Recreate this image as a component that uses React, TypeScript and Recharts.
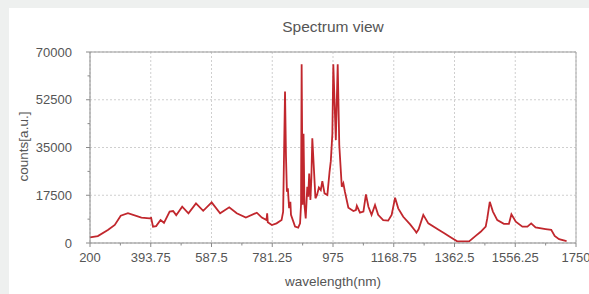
import { CartesianGrid, Line, LineChart, ReferenceLine, XAxis, YAxis } from 'recharts'

const wavelengths = [
  200, 225, 257, 279, 298, 321, 364, 390, 395, 401, 411, 425, 436, 454, 465, 475, 494, 514, 538,
  561, 588, 615, 644, 668, 697, 732, 748, 763, 765, 767, 780, 795, 811, 816, 822, 825, 828, 831,
  835, 839, 841, 854, 864, 870, 873, 875, 878, 881, 884, 888, 893, 896, 899, 903, 906, 909, 914,
  919, 924, 930, 936, 941, 948, 957, 964, 968, 973, 976, 984, 990, 995, 1003, 1008, 1013, 1024,
  1040, 1048, 1051, 1061, 1072, 1080, 1088, 1098, 1109, 1119, 1135, 1151, 1162, 1173, 1183, 1199,
  1221, 1237, 1241, 1248, 1263, 1279, 1313, 1330, 1350, 1371, 1409, 1430, 1446, 1462, 1467, 1475,
  1485, 1499, 1520, 1536, 1544, 1558, 1579, 1595, 1607, 1621, 1653, 1671, 1682, 1696, 1720,
]

const counts = [
  2100, 2560, 4760, 6600, 10000, 10900, 9300, 9000, 9200, 6000, 6200, 8400, 7400, 11500, 11700,
  10200, 13300, 10900, 14500, 11800, 14900, 10900, 13100, 10900, 9300, 11100, 9300, 8400, 10900,
  7600, 6600, 7200, 8400, 11500, 55500, 32000, 18800, 20000, 12800, 15100, 10300, 6000, 5600, 7200,
  13900, 65500, 14000, 40000, 13900, 9000, 20600, 17000, 25500, 15800, 23700, 38400, 27400, 16400,
  17600, 20300, 19400, 22700, 18200, 17600, 26100, 30000, 40000, 65500, 37700, 65500, 35900, 20600,
  21900, 18800, 12900, 11700, 12100, 13600, 11100, 11500, 17800, 13300, 10300, 13900, 10300, 8400,
  8200, 10300, 16600, 12700, 9600, 6800, 4500, 3800, 5000, 10300, 7200, 4800, 3600, 2100, 600, 600,
  2600, 4100, 6000, 9000, 15100, 11500, 8400, 7000, 7000, 10500, 7800, 6000, 6000, 7200, 5700, 5100,
  4800, 2600, 1400, 700,
]

const xMajor = [200, 393.75, 587.5, 781.25, 975, 1168.75, 1362.5, 1556.25, 1750]
const xMinor = [296.875, 490.625, 684.375, 878.125, 1071.875, 1265.625, 1459.375, 1653.125]
const yMajor = [0, 17500, 35000, 52500, 70000]
const yMinor = [8750, 26250, 43750, 61250]

const data = wavelengths.map((w, i) => ({ wl: w, counts: counts[i] }))
const xTicks = [...xMajor, ...xMinor].sort((a, b) => a - b)
const yTicks = [...yMajor, ...yMinor].sort((a, b) => a - b)

const font = '"Liberation Sans", Arial, Helvetica, sans-serif'
const axisColor = '#8a8a8a'
const textColor = '#555'

const XTick = (props: any) => {
  const { x, y, payload } = props
  const major = xMajor.includes(payload.value)
  const top = y - 10
  return (
    <g>
      <line x1={x} x2={x} y1={top} y2={top + (major ? 4 : 2.5)} stroke={axisColor} />
      {major && (
        <text x={x} y={y} dy='0.71em' textAnchor='middle' fill={textColor} fontSize={13} fontFamily={font}>
          {payload.value}
        </text>
      )}
    </g>
  )
}

const YTick = (props: any) => {
  const { x, y, payload } = props
  const major = yMajor.includes(payload.value)
  const axisX = x + 18
  return (
    <g>
      <line x1={axisX - (major ? 4 : 2.5)} x2={axisX} y1={y} y2={y} stroke={axisColor} />
      {major && (
        <text x={x} y={y} dy='0.355em' textAnchor='end' fill={textColor} fontSize={13} fontFamily={font}>
          {payload.value}
        </text>
      )}
    </g>
  )
}

export default function App() {
  return (
    <div style={{ position: 'absolute', left: 0, top: 0, width: 589, height: 294, background: '#eef0ef', fontFamily: font }}>
      <div style={{ position: 'absolute', left: 9, top: 8, width: 580, height: 286, background: '#fff' }} />
      <div style={{ position: 'absolute', left: 0, top: 0 }}>
        <LineChart width={589} height={294} data={data} margin={{ top: 52, right: 13, bottom: 21, left: 30 }}>
          <CartesianGrid
            stroke='#cfcfcf'
            strokeDasharray='2 2'
            horizontalValues={yMajor}
            verticalValues={xMajor}
          />
          <XAxis
            dataKey='wl'
            type='number'
            domain={[200, 1750]}
            ticks={xTicks}
            interval={0}
            height={30}
            tickSize={0}
            tickMargin={10}
            tickLine={false}
            stroke={axisColor}
            tick={<XTick />}
          />
          <YAxis
            type='number'
            domain={[0, 70000]}
            ticks={yTicks}
            interval={0}
            width={60}
            tickSize={0}
            tickMargin={18}
            tickLine={false}
            stroke={axisColor}
            tick={<YTick />}
          />
          <ReferenceLine y={70000} stroke='#999' />
          <ReferenceLine x={1750} stroke='#aaa' />
          <Line
            type='linear'
            dataKey='counts'
            stroke='#c1272d'
            strokeWidth={1.8}
            dot={false}
            isAnimationActive={false}
          />
        </LineChart>
      </div>
      <div style={{ position: 'absolute', left: 233, width: 200, top: 18, textAlign: 'center', fontSize: 15.5, color: textColor }}>
        Spectrum view
      </div>
      <div style={{ position: 'absolute', left: 233, width: 200, top: 274, textAlign: 'center', fontSize: 13.5, color: textColor }}>
        wavelength(nm)
      </div>
      <div
        style={{
          position: 'absolute',
          left: 23,
          top: 148,
          width: 120,
          marginLeft: -60,
          marginTop: -9,
          textAlign: 'center',
          fontSize: 13.5,
          color: textColor,
          transform: 'rotate(-90deg)',
        }}
      >
        counts[a.u.]
      </div>
    </div>
  )
}
